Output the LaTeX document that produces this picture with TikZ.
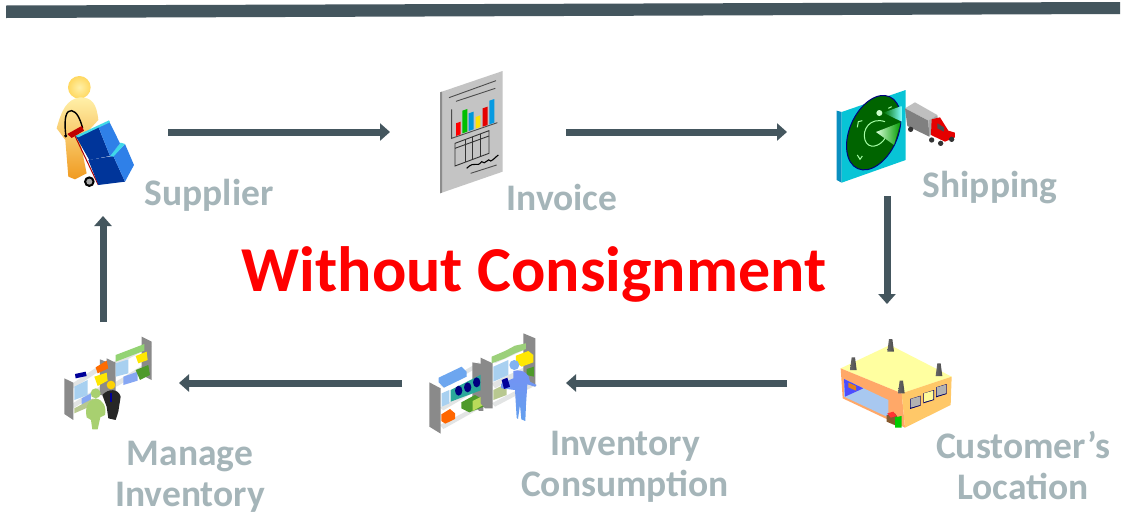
\documentclass[tikz,border=0pt]{standalone}
\usepackage{fontspec}
\setmainfont{Carlito}
\usetikzlibrary{arrows.meta}
\definecolor{bar}{HTML}{44565E}
\definecolor{lab}{HTML}{A5B5B9}
\definecolor{ylt}{HTML}{FFF0A8}
\definecolor{ymd}{HTML}{FFD860}
\definecolor{ydk}{HTML}{F09A20}
\definecolor{bdark}{HTML}{00359A}
\definecolor{bmid}{HTML}{2F80E8}
\definecolor{cyn}{HTML}{40D8E8}
\definecolor{sgray}{HTML}{8A8A8A}
\definecolor{slight}{HTML}{E2E4E4}
\definecolor{tealbox}{HTML}{2AA89A}
\definecolor{lblue}{HTML}{A8D0F0}
\definecolor{lgreen}{HTML}{A8D070}
\definecolor{gbox}{HTML}{4E9A2A}
\definecolor{olive}{HTML}{B8C890}
\definecolor{panel}{HTML}{08C4D6}
\definecolor{panelside}{HTML}{0A8FC0}
\definecolor{radar}{HTML}{006400}
\definecolor{roof}{HTML}{FFFFA0}
\definecolor{wallf}{HTML}{FFA868}
\definecolor{walls}{HTML}{FFC868}
\definecolor{door}{HTML}{A8C8F0}
\tikzset{
 conn/.style={draw=bar,line width=7pt,-{Triangle[length=10pt,width=17pt]}},
 slot/.style={inner sep=0pt,outer sep=0pt,minimum width=#1},
 lbl/.style={text=lab,align=center,inner sep=0pt,font=\bfseries\fontsize{37.5}{41}\selectfont},
 ttl/.style={text=red,inner sep=0pt,font=\bfseries\fontsize{64}{70}\selectfont},
 icon/.style={x=0.3333pt,y=-0.3333pt},
 ln/.style={line width=0.9pt},
}
\begin{document}
\begin{tikzpicture}[x=1pt,y=-1pt]
\useasboundingbox (0,0) rectangle (1148,512);
\fill[white] (0,0) rectangle (1148,512);
\fill[bar] (6,5.5) -- (1120,2) -- (1120,14) -- (6,18) -- cycle;

% invisible slots holding the icons
\node[slot=130pt,minimum height=168pt] (sup) at (103,132) {};
\node[slot=176pt,minimum height=120pt] (inv) at (478,132) {};
\node[slot=200pt,minimum height=128pt] (ship) at (887,132) {};
\node[slot=200pt,minimum height=158pt] (cust) at (887,383) {};
\node[slot=164pt,minimum height=110pt] (cons) at (484,383) {};
\node[slot=152pt,minimum height=122pt] (mgr) at (103,383) {};
\draw[conn] (sup) -- (inv);
\draw[conn] (inv) -- (ship);
\draw[conn] (ship) -- (cust);
\draw[conn] (cust) -- (cons);
\draw[conn] (cons) -- (mgr);
\draw[conn] (mgr) -- (sup);

% Supplier icon
\begin{scope}[shift={(30,60)},icon]
\shade[inner color=ylt,outer color=ymd] (148,82) circle (34 and 34);
\shade[top color=ylt,middle color=ymd,bottom color=ydk] (150,112) .. controls (110,118) and (95,150) .. (80,205)
  -- (106,240) -- (115,350) -- (135,358) -- (170,340) -- (150,240) -- (205,180)
  .. controls (200,130) and (185,112) .. (150,112) -- cycle;
\draw[black,line width=1.4pt] (108,230) .. controls (100,170) and (110,150) .. (125,152)
  .. controls (140,155) and (150,175) .. (158,205);
\fill[red!75!black] (112,222) -- (155,198) -- (162,212) -- (125,234) -- cycle;
\fill[black] (107,228) circle (5 and 5);
\draw[red!70!black,line width=1pt] (135,228) -- (205,375);
\fill[black] (178,365) circle (16 and 16);
\fill[gray!70] (178,365) circle (9 and 9);
\fill[bdark] (175,300) -- (250,288) -- (285,365) -- (205,375) -- cycle;
\fill[bmid] (250,288) -- (285,252) -- (312,315) -- (285,365) -- cycle;
\fill[cyn] (238,288) -- (272,248) -- (285,252) -- (250,290) -- cycle;
\fill[bdark] (137,228) -- (205,200) -- (240,288) -- (178,300) -- cycle;
\fill[bmid] (205,200) -- (237,183) -- (270,250) -- (240,288) -- cycle;
\fill[cyn] (137,228) -- (237,181) -- (240,187) -- (205,203) -- (145,232) -- cycle;
\end{scope}

% Invoice icon
\begin{scope}[shift={(420,60)},icon]
\fill[black!23] (60,97) -- (248,33) -- (248,335) -- (60,400) -- cycle;
\fill[black!45] (60,97) -- (66,95) -- (66,398) -- (60,400) -- cycle;
\draw[black!70,ln] (87,113) -- (228,62);
\draw[black!70,ln] (108,124) -- (226,85);
\draw[black!70,ln] (95,148) -- (95,235) -- (232,188);
\fill[red] (108,190) -- (122,185) -- (122,223) -- (108,228) -- cycle;
\fill[green!75!black] (127,152) -- (142,147) -- (142,215) -- (127,220) -- cycle;
\fill[blue!30!cyan!85!black] (146,160) -- (161,155) -- (161,208) -- (146,213) -- cycle;
\fill[yellow!85!orange] (167,171) -- (181,166) -- (181,201) -- (167,206) -- cycle;
\fill[red!90!black] (188,145) -- (203,140) -- (203,195) -- (188,200) -- cycle;
\fill[cyan!85!blue] (208,122) -- (223,117) -- (223,188) -- (208,193) -- cycle;
\draw[black!80,ln] (105,250) -- (207,212) -- (207,280) -- (105,318) -- cycle;
\draw[black!80,ln] (105,265) -- (207,228);
\draw[black!80,ln] (135,240) -- (135,307);
\draw[black!80,ln] (157,231) -- (157,298);
\draw[black!80,ln] (182,222) -- (182,289);
\draw[black,line width=1.1pt] (140,325) .. controls (165,300) and (170,325) .. (185,305)
  .. controls (195,318) and (205,290) .. (212,303) .. controls (220,300) and (228,290) .. (235,285);
\draw[black!70,ln] (152,340) -- (230,315);
\end{scope}

% Shipping icon
\begin{scope}[shift={(820,90)},icon]
\fill[panelside] (50,62) -- (65,66) -- (65,278) -- (50,270) -- cycle;
\fill[panel] (65,66) -- (257,0) -- (257,210) -- (65,278) -- cycle;
\fill[radar,draw=blue!50!black,line width=1pt,rotate around={-24:(161,128)}] (161,128) ellipse (72 and 118);
\draw[green!35!white,line width=1pt] (195,95) .. controls (150,80) and (125,120) .. (135,150) .. controls (145,180) and (180,170) .. (195,145);
\draw[green!35!white,line width=1pt] (112,112) -- (115,95) -- (127,92);
\draw[green!35!white,line width=1pt] (112,195) -- (120,208) -- (127,198);
\draw[green!35!white,line width=1pt] (205,55) -- (215,50);
\shade[left color=green!15!white,right color=green!60!black] (168,126) -- (242,97) -- (222,165) -- cycle;
\fill[green!20!white] (178,69) circle (9 and 9);
\shade[left color=green!45!black,right color=cyan!50!white] (190,68) -- (245,48) -- (245,95) -- cycle;
% truck
\fill[black!25] (255,55) -- (285,37) -- (352,75) -- (325,92) -- cycle;
\fill[black!50] (255,55) -- (325,92) -- (328,140) -- (262,108) -- cycle;
\fill[black!35] (325,92) -- (352,75) -- (355,100) -- (328,140) -- cycle;
\fill[red!90!black] (335,88) -- (360,82) -- (385,122) -- (405,128) -- (405,142) -- (375,155) -- (333,135) -- cycle;
\fill[black!70] (352,100) -- (372,112) -- (372,125) -- (352,115) -- cycle;
\foreach \wx/\wy in {272/118,335/150,362/160,395/148}{\fill[black!80] (\wx,\wy) circle (8 and 8);}
\end{scope}

% Customer's location icon
\begin{scope}[shift={(830,330)},icon]
\fill[roof] (32,115) -- (180,45) -- (365,140) -- (215,190) -- cycle;
\fill[wallf] (32,115) -- (215,190) -- (225,293) -- (38,205) -- cycle;
\fill[walls] (215,190) -- (365,140) -- (362,225) -- (225,293) -- cycle;
\fill[door] (42,147) -- (175,210) -- (175,262) -- (42,200) -- cycle;
\fill[blue!70!white] (42,147) -- (100,175) -- (45,200) -- cycle;
\fill[orange!60!brown] (55,158) -- (78,168) -- (78,182) -- (55,172) -- cycle;
\foreach \ax/\ay/\bx/\by in {240/207/272/197,280/190/312/180,318/172/350/162}{
  \fill[blue!40!black] (\ax,\ay) -- (\bx,\by) -- (\bx,\by+30) -- (\ax,\ay+30) -- cycle;}
\fill[black!30] (242,207) -- (270,199) -- (270,225) -- (242,233) -- cycle;
\fill[yellow!40!white] (282,190) -- (310,182) -- (310,208) -- (282,216) -- cycle;
\fill[black!30] (320,172) -- (348,164) -- (348,190) -- (320,198) -- cycle;
\foreach \px/\py in {70/120,182/65,327/138,214/190}{
  \shade[left color=black!60,middle color=black!10,right color=black!70] (\px-10,\py) -- (\px-5,\py-38) -- (\px+5,\py-38) -- (\px+10,\py) -- cycle;}
\fill[brown!70!black] (170,255) -- (195,250) -- (205,265) -- (205,290) -- (170,275) -- cycle;
\fill[red!80!white] (172,250) -- (190,245) -- (200,258) -- (182,263) -- cycle;
\fill[green!80!black] (195,262) -- (215,258) -- (215,293) -- (195,293) -- cycle;
\end{scope}

% Inventory consumption icon
\begin{scope}[shift={(420,325)},icon]
% left rack
\fill[slight] (60,180) -- (175,112) -- (188,118) -- (70,188) -- cycle;
\fill[slight] (60,248) -- (175,180) -- (188,186) -- (70,256) -- cycle;
\fill[slight] (60,300) -- (175,240) -- (188,246) -- (70,312) -- cycle;
\fill[sgray] (28,172) -- (62,190) -- (62,326) -- (28,305) -- cycle;
\fill[sgray] (157,112) -- (190,118) -- (190,258) -- (178,258) -- (157,240) -- cycle;
\fill[bmid!70!white] (56,158) -- (125,125) -- (140,140) -- (140,155) -- (72,188) -- (56,172) -- cycle;
\fill[lblue] (65,205) -- (88,195) -- (88,235) -- (65,245) -- cycle;
\fill[tealbox] (92,195) -- (185,148) -- (185,195) -- (92,230) -- cycle;
\foreach \cx/\cy in {116/197,143/187,170/172}{\fill[blue!50!black] (\cx,\cy) circle (11 and 15);}
\fill[gbox] (124,232) -- (165,210) -- (192,225) -- (192,245) -- (148,262) -- (124,250) -- cycle;
\fill[lgreen!80!yellow] (158,228) -- (190,212) -- (190,240) -- (158,258) -- cycle;
\fill[orange!80!red] (64,268) -- (90,252) -- (105,265) -- (105,282) -- (76,296) -- (64,288) -- cycle;
% right rack
\fill[slight] (215,100) -- (330,50) -- (345,60) -- (225,115) -- cycle;
\fill[slight] (215,175) -- (330,118) -- (345,125) -- (225,190) -- cycle;
\fill[slight] (215,235) -- (330,175) -- (345,182) -- (225,245) -- cycle;
\fill[sgray] (182,98) -- (218,115) -- (218,250) -- (195,250) -- (182,235) -- cycle;
\fill[sgray] (310,25) -- (346,40) -- (346,185) -- (322,172) -- (310,160) -- cycle;
\fill[olive!85!green] (215,95) -- (255,78) -- (255,100) -- (215,115) -- cycle;
\fill[olive!85!green] (255,78) -- (285,62) -- (285,85) -- (255,100) -- cycle;
\fill[olive!85!green] (285,62) -- (318,55) -- (318,72) -- (285,85) -- cycle;
\fill[yellow!90!orange] (288,92) -- (325,78) -- (340,90) -- (340,112) -- (305,125) -- (288,112) -- cycle;
\fill[lblue] (220,125) -- (265,105) -- (265,150) -- (220,170) -- cycle;
\fill[olive] (220,195) -- (260,175) -- (260,210) -- (220,225) -- cycle;
\fill[gbox] (320,132) -- (342,125) -- (342,155) -- (320,150) -- cycle;
% person
\fill[bmid!60!white] (283,120) circle (15 and 15);
\shade[top color=lblue!70!blue,bottom color=bmid!75!white] (280,138) .. controls (310,130) and (330,150) .. (330,170)
  -- (350,180) -- (345,185) -- (322,178) -- (318,240) -- (316,288) -- (304,283) -- (300,240) -- (294,282) -- (290,278)
  -- (285,195) -- (245,190) -- (245,175) -- (280,160) -- cycle;
\fill[blue!60!black] (245,165) -- (262,158) -- (270,185) -- (252,192) -- cycle;
\end{scope}

% Manage inventory icon
\begin{scope}[shift={(55,330)},icon]
\fill[slight] (45,165) -- (150,95) -- (165,102) -- (55,175) -- cycle;
\fill[slight] (45,225) -- (150,160) -- (165,165) -- (55,235) -- cycle;
\fill[slight] (175,95) -- (280,40) -- (290,50) -- (185,105) -- cycle;
\fill[slight] (175,160) -- (280,95) -- (290,105) -- (185,170) -- cycle;
\fill[sgray] (28,145) -- (55,158) -- (55,270) -- (28,252) -- cycle;
\fill[sgray] (135,88) -- (165,100) -- (165,195) -- (135,195) -- cycle;
\fill[sgray] (155,85) -- (182,98) -- (182,190) -- (155,190) -- cycle;
\fill[sgray] (260,20) -- (290,35) -- (290,150) -- (260,135) -- cycle;
\fill[orange!85!red] (122,112) -- (155,92) -- (160,115) -- (128,130) -- cycle;
\fill[blue!60!black] (60,132) -- (92,125) -- (95,138) -- (62,145) -- cycle;
\fill[yellow!90!orange] (118,140) -- (155,128) -- (158,152) -- (128,168) -- cycle;
\fill[lblue] (58,170) -- (98,150) -- (98,195) -- (58,210) -- cycle;
\fill[lblue!80!blue] (80,205) -- (108,190) -- (108,222) -- (80,235) -- cycle;
\fill[olive] (58,235) -- (115,205) -- (115,225) -- (58,250) -- cycle;
\fill[olive!80!green] (182,75) -- (268,42) -- (268,62) -- (182,95) -- cycle;
\fill[yellow!90!orange] (242,78) -- (275,65) -- (278,90) -- (250,100) -- cycle;
\fill[lblue] (182,100) -- (220,88) -- (220,130) -- (182,140) -- cycle;
\fill[lblue!80!blue] (205,140) -- (248,125) -- (248,152) -- (205,165) -- cycle;
\fill[gbox] (242,120) -- (280,105) -- (285,135) -- (255,150) -- cycle;
% people
\fill[black!85] (142,195) .. controls (160,175) and (190,175) .. (197,200) -- (190,245) -- (182,270) -- (160,265) -- (155,230) -- cycle;
\fill[yellow!70!orange] (168,165) circle (13 and 13);
\fill[blue!60!black] (165,190) -- (172,190) -- (172,215) -- (165,215) -- cycle;
\fill[lgreen] (122,190) circle (15 and 15);
\fill[lgreen] (122,205) .. controls (95,215) and (90,235) .. (95,262) -- (108,270) -- (112,298) -- (128,298) -- (136,262) -- (150,255) .. controls (155,230) and (145,210) .. (122,205) -- cycle;
\end{scope}

% labels
\node[lbl] (tsup) at (209,195) {Supplier};
\node[lbl] (tinv) at (562,197.5) {Invoice};
\node[lbl] (tship) at (990,187.5) {Shipping};
\node[lbl] (tcust) at (1023,465) {Customer’s\\Location};
\node[lbl] (tcons) at (625,467) {Inventory\\Consumption};
\node[lbl] (tmgr) at (190,477) {Manage\\Inventory};
\node[ttl] (title) at (534,274) {Without Consignment};
\end{tikzpicture}
\end{document}
